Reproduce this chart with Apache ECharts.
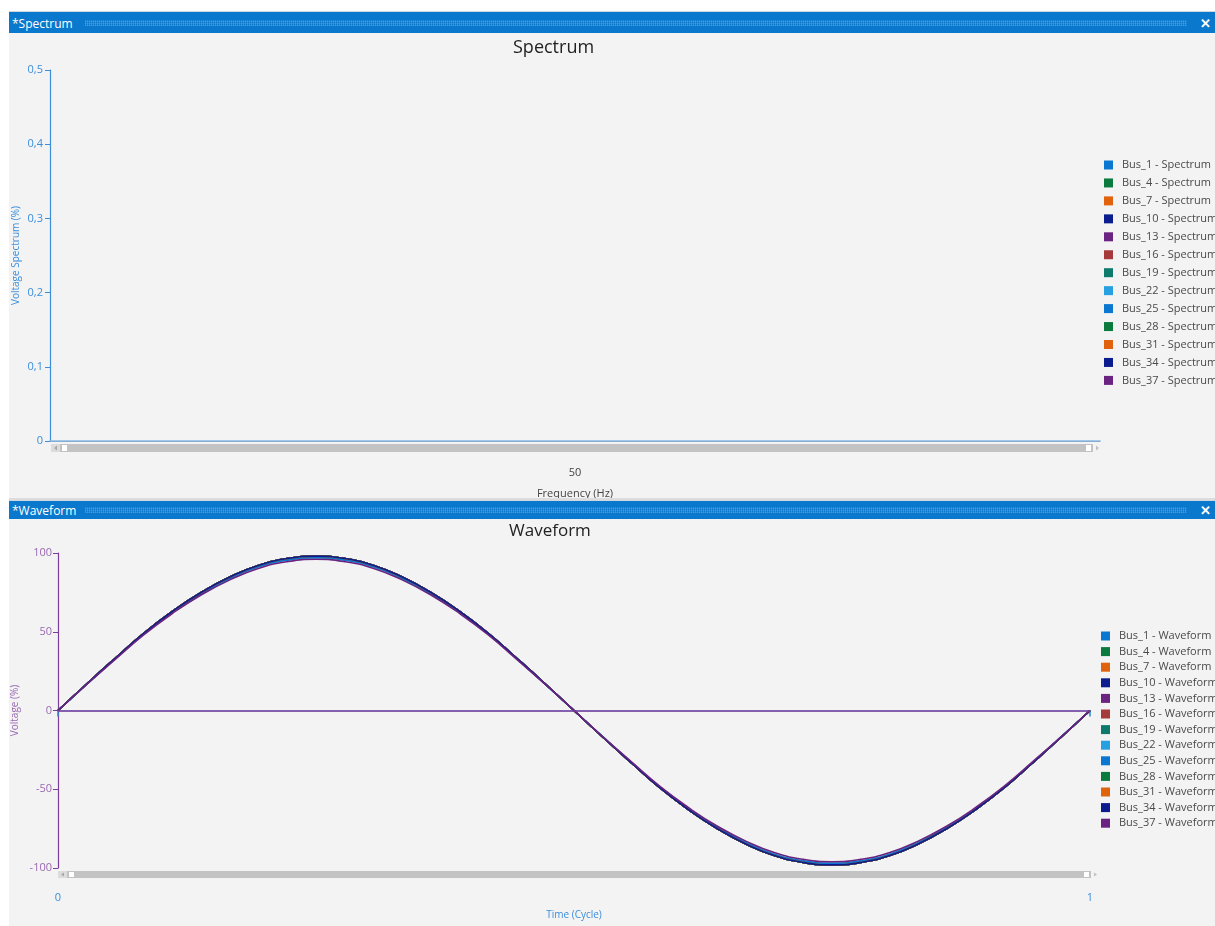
<!DOCTYPE html>
<html>
<head>
<meta charset="utf-8">
<script src="https://cdn.jsdelivr.net/npm/echarts@6/dist/echarts.min.js"></script>
<style>
  html, body { margin: 0; padding: 0; background: #fff; width: 1215px; height: 926px; overflow: hidden; font-family: "Open Sans", "Noto Sans", sans-serif; }
  .bar { position: absolute; left: 9px; width: 1206px; background: #0a78cc; color: #fff; font-size: 12px; border-top: 1px solid #cfd8e0; box-sizing: border-box; }
  .bar .txt { position: absolute; left: 3px; top: 50%; transform: translateY(-50%); }
  .bar .dots { position: absolute; left: 76px; right: 28px; top: 50%; height: 6px; transform: translateY(-50%);
    background:
      repeating-linear-gradient(90deg, rgba(255,255,255,.16) 0 1px, transparent 1px 2px),
      repeating-linear-gradient(0deg, rgba(255,255,255,.10) 0 1px, transparent 1px 2px); }
  .bar .x { position: absolute; right: 4px; top: 50%; transform: translateY(-52%); font-size: 13px; font-weight: bold; }
  .panel { position: absolute; left: 9px; width: 1206px; background: #f3f3f3; }
</style>
</head>
<body>
<div class="bar" style="top:11px;height:22px"><span class="txt">*Spectrum</span><span class="dots"></span><span class="x">✕</span></div>
<div class="panel" id="spec" style="top:33px;height:465px"></div>
<div style="position:absolute;left:9px;top:498px;width:1206px;height:2px;background:#dcdcdc"></div>
<div class="bar" style="top:500px;height:19px"><span class="txt">*Waveform</span><span class="dots"></span><span class="x">✕</span></div>
<div class="panel" id="wave" style="top:519px;height:407px"></div>
<script>
// buses and colours
const busNames = ['Bus_1', 'Bus_4', 'Bus_7', 'Bus_10', 'Bus_13', 'Bus_16', 'Bus_19', 'Bus_22', 'Bus_25', 'Bus_28', 'Bus_31', 'Bus_34', 'Bus_37'];
const busColors = ['#0a78d0', '#0b7a3e', '#e0620d', '#0a1c8e', '#6a2380', '#a63a3a', '#0e7a6c', '#26a0e0',
                   '#0a78d0', '#0b7a3e', '#e0620d', '#0a1c8e', '#6a2380'];

// spectrum: one frequency, nothing visible above zero
const freqLabels = ['50'];
const spectrumValues = [0, 0, 0, 0, 0, 0, 0, 0, 0, 0, 0, 0, 0];

// waveform: time in cycles and voltage in %
const timeCycle = [0, 0.028, 0.056, 0.083, 0.111, 0.139, 0.167, 0.194, 0.222, 0.25, 0.278, 0.306, 0.333, 0.361, 0.389, 0.417, 0.444, 0.472, 0.5,
                   0.528, 0.556, 0.583, 0.611, 0.639, 0.667, 0.694, 0.722, 0.75, 0.778, 0.806, 0.833, 0.861, 0.889, 0.917, 0.944, 0.972, 1];
const waveHigh = [0, 17.0, 33.5, 49.0, 63.0, 75.1, 84.9, 92.1, 96.5, 98.0, 96.5, 92.1, 84.9, 75.1, 63.0, 49.0, 33.5, 17.0, 0,
                  -17.0, -33.5, -49.0, -63.0, -75.1, -84.9, -92.1, -96.5, -98.0, -96.5, -92.1, -84.9, -75.1, -63.0, -49.0, -33.5, -17.0, 0];
const waveMid = [0, 16.8, 33.2, 48.5, 62.4, 74.3, 84.0, 91.2, 95.5, 97.0, 95.5, 91.2, 84.0, 74.3, 62.4, 48.5, 33.2, 16.8, 0,
                 -16.8, -33.2, -48.5, -62.4, -74.3, -84.0, -91.2, -95.5, -97.0, -95.5, -91.2, -84.0, -74.3, -62.4, -48.5, -33.2, -16.8, 0];
const waveLow = [0, 16.7, 32.8, 48.0, 61.7, 73.5, 83.1, 90.2, 94.5, 96.0, 94.5, 90.2, 83.1, 73.5, 61.7, 48.0, 32.8, 16.7, 0,
                 -16.7, -32.8, -48.0, -61.7, -73.5, -83.1, -90.2, -94.5, -96.0, -94.5, -90.2, -83.1, -73.5, -61.7, -48.0, -32.8, -16.7, 0];
const waveByBus = [waveHigh, waveHigh, waveHigh, waveHigh, waveHigh, waveHigh, waveHigh,
                   waveMid, waveMid, waveHigh, waveHigh, waveHigh, waveLow];

const specTicks = [0, 0.1, 0.2, 0.3, 0.4, 0.5];
const waveTicks = [-100, -50, 0, 50, 100];

const font = '"Open Sans", "Noto Sans", sans-serif';
const blue = '#3b8edb';
const purple = '#7a3d99';
const purpleText = '#9a68b2';

function scrollbar(x, y, w, h) {
  return [
    { type: 'rect', shape: { x: x, y: y, width: w, height: h }, style: { fill: '#c3c3c3' } },
    { type: 'rect', shape: { x: x, y: y, width: 9, height: h }, style: { fill: '#dcdcdc' } },
    { type: 'polygon', shape: { points: [[x + 6, y + 1.5], [x + 6, y + h - 1.5], [x + 3, y + h / 2]] }, style: { fill: '#a8a8a8' } },
    { type: 'rect', shape: { x: x + 11, y: y + 1, width: 5, height: h - 2 }, style: { fill: '#fff' } },
    { type: 'rect', shape: { x: x + w - 7, y: y + 1, width: 5, height: h - 2 }, style: { fill: '#fff' } },
    { type: 'polygon', shape: { points: [[x + w + 3, y + 1.5], [x + w + 3, y + h - 1.5], [x + w + 6, y + h / 2]] }, style: { fill: '#c0c0c0' } }
  ];
}

function legendFor(left, top, gap, size, suffix) {
  return {
    orient: 'vertical', left: left, top: top, padding: 0, itemWidth: 9, itemHeight: 9, itemGap: gap, icon: 'rect',
    data: busNames.map(b => b + suffix),
    textStyle: { color: '#4a4a4a', fontSize: size, fontFamily: font, lineHeight: 12, padding: [0, 0, 0, 4] }
  };
}

// ---- Spectrum ----
const specChart = echarts.init(document.getElementById('spec'));
specChart.setOption({
  animation: false,
  color: busColors,
  grid: { left: 41, top: 37, right: 115, bottom: 57, outerBoundsMode: 'none', containLabel: false },
  legend: legendFor(1095, 126, 5.95, 11, ' - Spectrum'),
  xAxis: [
    {
      type: 'category', data: freqLabels, position: 'bottom', offset: 15,
      axisLine: { lineStyle: { color: '#8a8a8a' } },
      axisTick: { length: 5, lineStyle: { color: '#8a8a8a' } },
      axisLabel: { color: '#444', fontSize: 11, fontFamily: font, margin: 11 },
      name: 'Frequency (Hz)', nameLocation: 'middle', nameGap: 32, nameMoveOverlap: false,
      nameTextStyle: { color: '#444', fontSize: 11, fontFamily: font }
    },
    {
      type: 'category', data: freqLabels, position: 'bottom',
      axisLine: { lineStyle: { color: '#86bbe8', width: 1.5 } },
      axisTick: { show: false }, axisLabel: { show: false }
    }
  ],
  yAxis: {
    type: 'value', min: specTicks[0], max: specTicks[specTicks.length - 1], interval: 0.1,
    axisLine: { show: true, lineStyle: { color: blue, width: 1.2 } },
    axisTick: { show: true, length: 5, lineStyle: { color: blue } },
    splitLine: { show: false },
    axisLabel: { color: blue, fontSize: 11, fontFamily: font, margin: 7,
      formatter: v => String(+v.toFixed(1)).replace('.', ',') },
    name: 'Voltage Spectrum (%)', nameLocation: 'middle', nameGap: 29, nameMoveOverlap: false,
    nameTextStyle: { color: blue, fontSize: 10, fontFamily: font }
  },
  series: busNames.map((b, i) => ({
    name: b + ' - Spectrum', type: 'bar', xAxisIndex: 0, data: [spectrumValues[i]]
  })),
  graphic: [
    { type: 'text', left: 504, top: 6, style: { text: 'Spectrum', fontSize: 18, fontFamily: font, fill: '#222' } }
  ].concat(scrollbar(42, 411, 1042, 8))
});

// ---- Waveform ----
const waveChart = echarts.init(document.getElementById('wave'));
waveChart.setOption({
  animation: false,
  color: busColors,
  grid: { left: 49, top: 34, right: 125, bottom: 58, outerBoundsMode: 'none', containLabel: false },
  legend: legendFor(1092, 111, 3.6, 11, ' - Waveform'),
  xAxis: {
    type: 'value', min: 0, max: 1, interval: 1, offset: 12,
    axisLine: { lineStyle: { color: '#86bbe8', width: 1.5 } },
    axisTick: { show: true, length: 6, lineStyle: { color: '#2f86d6', width: 1.5 } },
    splitLine: { show: false },
    axisLabel: { color: blue, fontSize: 11, fontFamily: font, margin: 12 },
    name: 'Time (Cycle)', nameLocation: 'middle', nameGap: 30, nameMoveOverlap: false,
    nameTextStyle: { color: blue, fontSize: 10, fontFamily: font }
  },
  yAxis: {
    type: 'value', min: waveTicks[0], max: waveTicks[waveTicks.length - 1], interval: 50,
    axisLine: { show: true, onZero: false, lineStyle: { color: purple, width: 1.2 } },
    axisTick: { show: true, length: 5, lineStyle: { color: purple } },
    splitLine: { show: false },
    axisLabel: { color: purpleText, fontSize: 11, fontFamily: font, margin: 6 },
    name: 'Voltage (%)', nameLocation: 'middle', nameGap: 38, nameMoveOverlap: false,
    nameTextStyle: { color: purpleText, fontSize: 10, fontFamily: font }
  },
  series: busNames.map((b, i) => {
    const s = {
      name: b + ' - Waveform', type: 'line', smooth: true, showSymbol: false,
      lineStyle: { width: 1.6 },
      data: timeCycle.map((t, k) => [t, waveByBus[i][k]])
    };
    if (i === busNames.length - 1) {
      s.markLine = { silent: true, symbol: 'none', label: { show: false },
        lineStyle: { color: purple, type: 'solid', width: 1.5 }, data: [{ yAxis: 0 }] };
    }
    return s;
  }),
  graphic: [
    { type: 'text', left: 500, top: 4, style: { text: 'Waveform', fontSize: 17, fontFamily: font, fill: '#222' } }
  ].concat(scrollbar(49, 352, 1033, 7))
});
</script>
</body>
</html>
